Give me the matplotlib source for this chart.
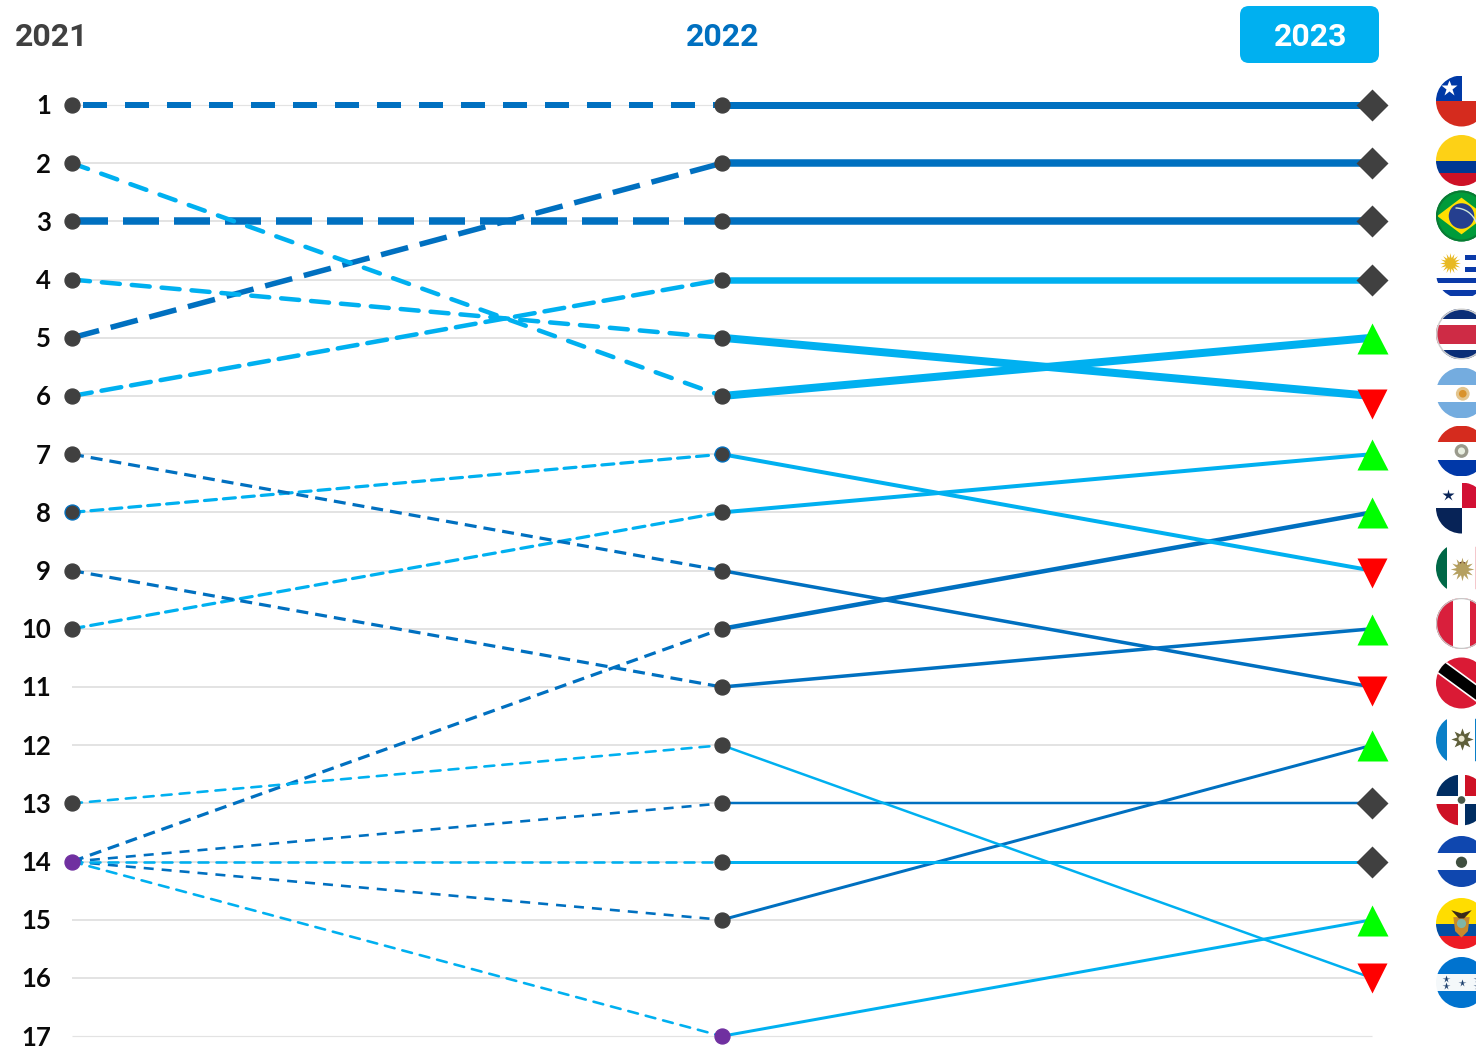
import matplotlib
matplotlib.use("Agg")
import matplotlib.pyplot as plt
from matplotlib.patches import Circle, Rectangle, Polygon, FancyBboxPatch, Arc

plt.rcParams['lines.scale_dashes'] = False

DARK = '#0070c0'
LIGHT = '#00b0f0'
GREY = '#404040'
PURPLE = '#7030a0'

countries = ['Chile', 'Colombia', 'Brasil', 'Uruguay', 'Costa Rica', 'Argentina', 'Paraguay', 'Panama',
             'Mexico', 'Peru', 'Trinidad', 'Guatemala', 'Dominicana', 'El Salvador', 'Ecuador', 'Honduras']
rank_2021 = [1, 5, 3, 6, 4, 2, 10, 14, 8, 9, 7, 14, 14, 14, 14, 13]
rank_2022 = [1, 2, 3, 4, 5, 6, 8, 10, 7, 11, 9, 15, 13, 14, 17, 12]
rank_2023 = [1, 2, 3, 4, 6, 5, 7, 8, 9, 10, 11, 12, 13, 14, 15, 16]
years = ['2021', '2022', '2023']
rank_labels = list(range(1, 18))

# styles for each country, pixels
colors = [DARK, DARK, DARK, LIGHT, LIGHT, LIGHT, LIGHT, DARK, LIGHT, DARK, DARK, DARK, DARK, LIGHT, LIGHT, LIGHT]
width_left = [6, 5.5, 7.5, 4.5, 4.5, 4.5, 3.2, 3.2, 3.2, 3.2, 3.2, 2.6, 2.6, 2.6, 2.6, 2.6]
width_right = [7, 7.5, 7.5, 6.5, 8, 8, 4, 4.5, 4, 3.5, 3.5, 3, 2.5, 3, 3, 2.5]
dashes_left = [(24, 18), (28, 12), (36, 15), (20, 10), (18, 12), (17, 14), (12, 7), (12, 7),
               (12, 7), (12, 7), (12, 7), (10, 8), (10, 8), (10, 8), (10, 8), (10, 8)]
dash_start = [31, 0, 0, 0, 0, 0, 0, 0, 0, 0, 0, 0, 0, 0, 0, 0]
# the down triangles sit a bit under their row in the source
nudge_down = {6: 0.14, 9: 0.04, 11: 0.07, 16: 0.0}
flag_y = [101, 160.5, 216, 273, 334, 393, 451, 508, 568, 623.5, 683, 740, 800, 861.5, 923.5, 982.5]

W, H = 1476, 1047
PX = 72 / 100.0  # points per pixel

fig = plt.figure(figsize=(W / 100, H / 100), dpi=100)
ax = fig.add_axes([0, 0, 1, 1])
step_x = 650.0
step_y = 58.2
ax.set_xlim(-72 / step_x, (W - 72) / step_x)
ax.set_ylim(1 + (H - 105) / step_y, 1 - 105 / step_y)
ax.axis('off')

# row lines
for r in rank_labels:
    lw = 1.2 if r in (1, 17) else 2
    ax.plot([0, 2], [r, r], color='#e3e3e3', lw=lw * PX, zorder=1, solid_capstyle='butt')
    ax.text(-21 / step_x, r + 0.025, str(r), ha='right', va='center', fontsize=18.5, fontweight='bold',
            family='Lato', color='#0a0a0a', zorder=5)

# lines between the years
for i in range(len(countries)):
    on, off = dashes_left[i]
    cap = 'round' if colors[i] == LIGHT else 'butt'
    ax.plot([0, 1], [rank_2021[i], rank_2022[i]], color=colors[i], lw=width_left[i] * PX,
            linestyle=(dash_start[i] * PX, (on * PX, off * PX)), dash_capstyle=cap, zorder=2)
    ax.plot([1, 2], [rank_2022[i], rank_2023[i]], color=colors[i], lw=width_right[i] * PX,
            solid_capstyle='butt', zorder=3)

# dots on 2021 and 2022
done = set()
for i in range(len(countries)):
    for x, r in ((0, rank_2021[i]), (1, rank_2022[i])):
        if (x, r) in done:
            continue
        done.add((x, r))
        face = GREY
        edge = GREY
        if (x, r) in ((0, 14), (1, 17)):
            face = PURPLE
            edge = PURPLE
        if (x, r) in ((0, 8), (1, 7)):
            edge = DARK
        ax.plot(x, r, 'o', ms=15 * PX, mfc=face, mec=edge, mew=1.3 * PX, zorder=6)

# change markers on 2023
for i in range(len(countries)):
    r = rank_2023[i]
    if r < rank_2022[i]:
        ax.plot(2, r, '^', ms=31 * PX, mfc='#00ff00', mec='none', zorder=6)
    elif r > rank_2022[i]:
        ax.plot(2, r + nudge_down.get(r, 0), 'v', ms=30 * PX, mfc='#ff0000', mec='none', zorder=6)
    else:
        ax.plot(2, r, 'D', ms=22 * PX, mfc=GREY, mec='none', zorder=6)

# second axes in pixels for the header and flags
px = fig.add_axes([0, 0, 1, 1], facecolor='none')
px.set_xlim(0, W)
px.set_ylim(H, 0)
px.axis('off')

px.add_patch(FancyBboxPatch((1247, 13), 125, 43, boxstyle='round,pad=7,rounding_size=9',
                            fc=LIGHT, ec='none', zorder=1))
year_x = [52, 722.5, 1310.5]
year_color = [GREY, DARK, 'white']
for x, t, c in zip(year_x, years, year_color):
    px.text(x, 37, t, ha='center', va='center', fontsize=23, fontweight='bold',
            family='Roboto', color=c, zorder=2)


class Flag:
    def __init__(self, cy, base='white', cx=1461.5, r=25.5):
        self.cx, self.cy, self.r = cx, cy, r
        self.clip = Circle((cx, cy), r, fc=base, ec='none', zorder=3)
        px.add_patch(self.clip)

    def add(self, p, z=4):
        p.set_zorder(z)
        px.add_patch(p)
        p.set_clip_path(self.clip)

    def rect(self, u0, v0, u1, v1, c):
        x, y = self.cx + u0 * self.r, self.cy + v0 * self.r
        self.add(Rectangle((x, y), (u1 - u0) * self.r, (v1 - v0) * self.r, fc=c, ec='none', lw=0))

    def dot(self, u, v, rad, c, z=5):
        self.add(Circle((self.cx + u * self.r, self.cy + v * self.r), rad * self.r, fc=c, ec='none'), z)

    def poly(self, pts, c, z=4):
        pts = [(self.cx + u * self.r, self.cy + v * self.r) for u, v in pts]
        self.add(Polygon(pts, closed=True, fc=c, ec='none'), z)

    def star(self, u, v, size, c, marker='*'):
        px.plot(self.cx + u * self.r, self.cy + v * self.r, marker=marker, ms=size, mfc=c, mec='none',
                zorder=6, clip_on=True)

    def bands(self, edges, cols):
        for a, b, c in zip(edges[:-1], edges[1:], cols):
            self.rect(-1, a, 1, b, c)

    def ring(self, c, w=1.5):
        px.add_patch(Circle((self.cx, self.cy), self.r - w / 2, fc='none', ec=c, lw=w * PX, zorder=5))


f = Flag(flag_y[0])  # Chile
f.rect(-1, 0, 1, 1, '#d52b1e')
f.rect(-1, -1, 0, 0, '#0039a6')
f.star(-0.5, -0.5, 12, 'white')

f = Flag(flag_y[1])  # Colombia
f.bands([-1, 0, 0.5, 1], ['#fdd116', '#003893', '#ce1126'])

f = Flag(flag_y[2], '#009b3a')  # Brasil
f.poly([(-0.95, 0), (0, -0.72), (0.95, 0), (0, 0.72)], '#fedf00')
f.dot(0, 0, 0.5, '#253f8f')
arc = Arc((f.cx - 6, f.cy + 14), 44, 44, theta1=270, theta2=340, color='#cfe6d8', lw=1, zorder=6)
f.add(arc, 6)
f.ring('#0a7a34', 2)

f = Flag(flag_y[3])  # Uruguay
for a, b in ((-0.71, -0.51), (-0.25, -0.03)):
    f.rect(0.14, a, 1, b, '#0a3aa8')
for a, b in ((0.21, 0.41), (0.67, 0.89)):
    f.rect(-1, a, 1, b, '#0a3aa8')
f.star(-0.45, -0.41, 15, '#e8b923', (16, 1, 0))
f.dot(-0.45, -0.41, 0.2, '#f2cc50', 5)

f = Flag(flag_y[4])  # Costa Rica
f.bands([-1, -0.6, -0.34, 0.38, 0.64, 1], ['#0b2e77', 'white', '#ce2b45', 'white', '#0b2e77'])
f.ring('#cfcfcf', 1.5)

f = Flag(flag_y[5])  # Argentina
f.bands([-1, -0.33, 0.35, 1], ['#74acdf', 'white', '#74acdf'])
f.dot(0.05, 0.03, 0.27, '#e3c58e')
f.dot(0.05, 0.03, 0.15, '#d9922b', 6)

f = Flag(flag_y[6])  # Paraguay
f.bands([-1, -0.35, 0.35, 1], ['#d52b1e', 'white', '#0038a8'])
f.dot(0, 0, 0.27, '#9a9a8c')
f.dot(0, 0, 0.14, '#e8eee0', 6)

f = Flag(flag_y[7])  # Panama
f.rect(0, -1, 1, 0, '#d21034')
f.rect(-1, 0, 0, 1, '#072357')
f.star(-0.52, -0.5, 9, '#072357')
f.star(0.85, 0.5, 9, '#d21034')

f = Flag(flag_y[8])  # Mexico
f.rect(-1, -1, -0.56, 1, '#006847')
f.rect(0.53, -1, 1, 1, '#f4c8cc')
f.star(0, 0.03, 17, '#b5a060', (12, 1, 0))
f.dot(0.03, -0.05, 0.2, '#5a2d17', 5)

f = Flag(flag_y[9], '#d91f3c')  # Peru
f.rect(-0.33, -1, 0.33, 1, 'white')
f.ring('#c7c7c7', 1.2)

f = Flag(flag_y[10], '#da1a35')  # Trinidad
f.poly([(-1.2, -1.28), (1.2, 0.48), (1.2, 1.2), (-1.2, -0.56)], 'white')
f.poly([(-1.2, -1.2), (1.2, 0.56), (1.2, 1.12), (-1.2, -0.64)], 'black')

f = Flag(flag_y[11])  # Guatemala
f.rect(-1, -1, -0.55, 1, '#0a7fc7')
f.rect(0.53, -1, 1, 1, '#0a7fc7')
f.star(0, -0.05, 16, '#5f5f3a', (8, 1, 0))
f.dot(0, -0.05, 0.12, '#e9e6cf', 6)

f = Flag(flag_y[12])  # Dominicana
f.rect(-1, -1, -0.15, -0.15, '#002d62')
f.rect(0.15, -1, 1, -0.15, '#ce1126')
f.rect(-1, 0.15, -0.15, 1, '#ce1126')
f.rect(0.15, 0.15, 1, 1, '#002d62')
f.dot(0, 0, 0.15, '#4a5a4a')

f = Flag(flag_y[13])  # El Salvador
f.bands([-1, -0.35, 0.33, 1], ['#0f47af', 'white', '#0f47af'])
f.dot(0, 0.03, 0.22, '#3f4f3f')

f = Flag(flag_y[14])  # Ecuador
f.bands([-1, 0, 0.5, 1], ['#ffdd00', '#034ea2', '#ed1c24'])
f.poly([(-0.32, -0.25), (0.32, -0.25), (0.25, 0.3), (0, 0.55), (-0.25, 0.3)], '#c8892c', 5)
f.dot(0, 0, 0.18, '#7fb5a8', 6)
f.poly([(-0.4, -0.52), (0, -0.4), (0.4, -0.52), (0.1, -0.2), (-0.1, -0.2)], '#3a2a1a', 6)

f = Flag(flag_y[15])  # Honduras
f.bands([-1, -0.33, 0.35, 1], ['#0073cf', '#f4f8fa', '#0073cf'])
for u, v in ((0, 0), (-0.6, -0.12), (-0.6, 0.15), (0.6, -0.12), (0.6, 0.15)):
    f.star(u, v, 5.5, '#1c3f6e')

fig.savefig('out.png', dpi=100)
